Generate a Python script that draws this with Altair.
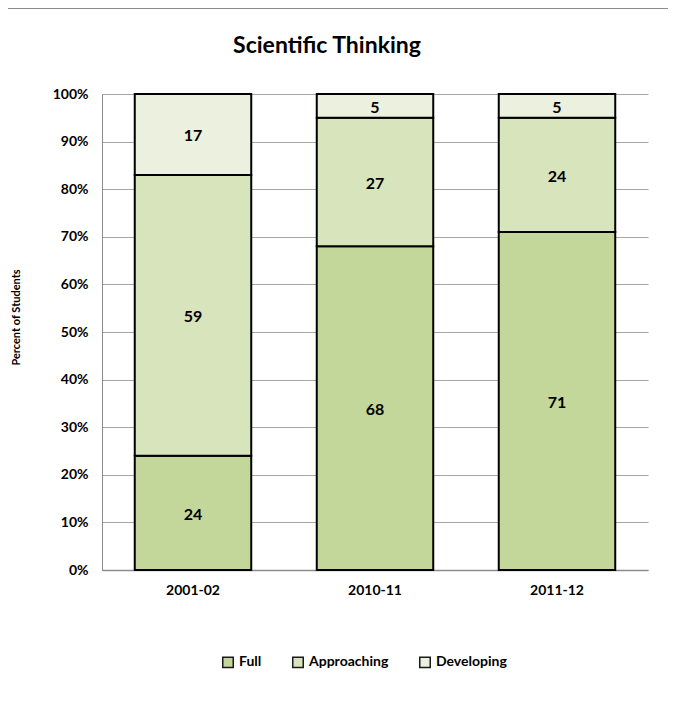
import altair as alt
import pandas as pd

years = ["2001-02", "2010-11", "2011-12"]
levels = ["Full", "Approaching", "Developing"]
full = [24, 68, 71]
approaching = [59, 27, 24]
developing = [17, 5, 5]
colors = ["#C4D79B", "#D8E4BC", "#EBF1DE"]
y_ticks = [0, 0.1, 0.2, 0.3, 0.4, 0.5, 0.6, 0.7, 0.8, 0.9, 1.0]

rows = []
for i, yr in enumerate(years):
    for k, (lev, ser) in enumerate(zip(levels, [full, approaching, developing])):
        rows.append({"year": yr, "level": lev, "order": k, "value": ser[i] / 100.0, "label": str(ser[i])})
df = pd.DataFrame(rows)

FONT = "Lato"
W, H = 546, 476

base = alt.Chart(df).transform_stack(
    stack="value", groupby=["year"], as_=["y0", "y1"], sort=[alt.SortField("order", order="ascending")]
).transform_calculate(mid="(datum.y0 + datum.y1) / 2")

xenc = alt.X("year:N", sort=years, title=None,
             scale=alt.Scale(paddingInner=0.36, paddingOuter=0.18),
             axis=alt.Axis(labelAngle=0, ticks=False, domainColor="#8C8C8C", domainWidth=1.5,
                           labelFont=FONT, labelFontWeight="bold", labelFontSize=14,
                           labelColor="#000000", labelPadding=13, grid=False))

bars = base.mark_bar(stroke="#000000", strokeWidth=2).encode(
    x=xenc,
    y=alt.Y("y0:Q", scale=alt.Scale(domain=[0, 1]), title="Percent of Students",
            axis=alt.Axis(values=y_ticks, format=".0%", ticks=False, domainColor="#8C8C8C",
                          gridColor="#A6A6A6", gridWidth=1.2, labelFont=FONT, labelFontWeight="bold",
                          labelFontSize=14, labelColor="#000000", labelPadding=14,
                          titleFont=FONT, titleFontWeight="bold", titleFontSize=11,
                          titleColor="#000000", titleAngle=-90, titleX=-86, titleY=223,
                          titleBaseline="middle", titleAlign="center")),
    y2="y1:Q",
    color=alt.Color("level:N", scale=alt.Scale(domain=levels, range=colors),
                    legend=alt.Legend(title=None, orient="none", legendX=119, legendY=561,
                                      direction="horizontal", symbolType="square", symbolSize=110,
                                      symbolStrokeColor="#1a1a1a", symbolStrokeWidth=1.5,
                                      labelFont=FONT, labelFontWeight="bold", labelFontSize=14,
                                      labelColor="#000000", columnPadding=27, labelOffset=4)),
)

texts = base.mark_text(font=FONT, fontWeight="bold", fontSize=16, color="#000000", dy=2).encode(
    x=alt.X("year:N", sort=years),
    y=alt.Y("mid:Q"),
    text="label:N",
)

topline = alt.Chart(pd.DataFrame({"a": [0]})).mark_rule(color="#8C8C8C", strokeWidth=2).encode(
    x=alt.value(-94), x2=alt.value(W + 30), y=alt.value(-86)
)

chart = alt.layer(bars, texts, topline).properties(
    width=W, height=H,
    title=alt.TitleParams("Scientific Thinking", font=FONT, fontWeight="bold", fontSize=23,
                          color="#000000", anchor="middle", dx=-48, offset=0, dy=51),
    padding={"left": 94, "top": 86, "right": 20, "bottom": 100},
    autosize=alt.AutoSizeParams(type="none"),
).configure_view(stroke=None)

chart.save("out.html", embed_options={"renderer": "svg", "actions": False})
